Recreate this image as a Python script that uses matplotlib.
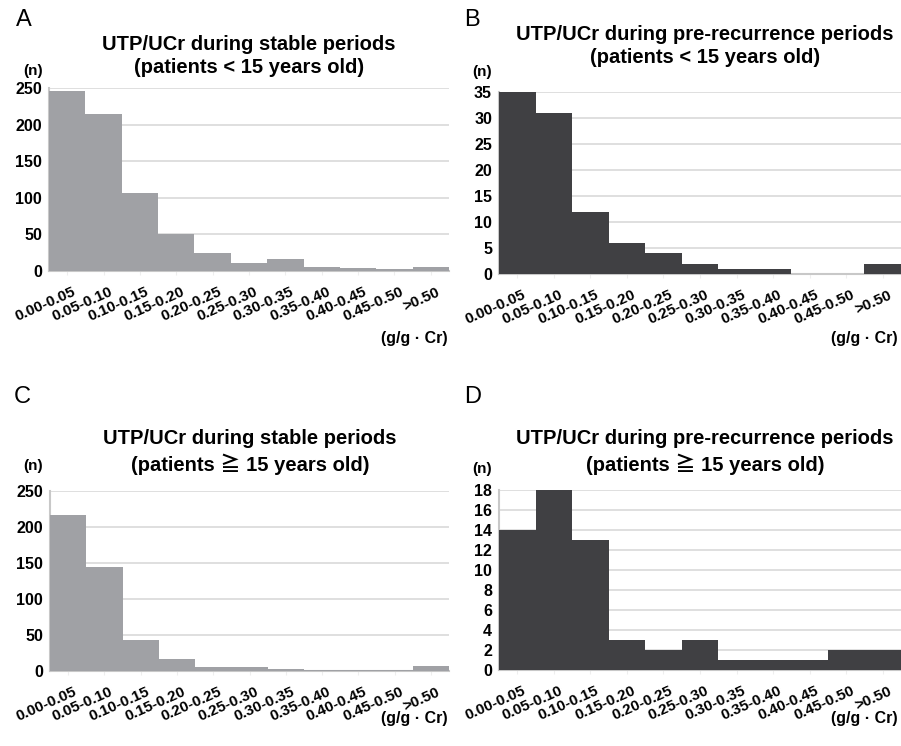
import matplotlib
matplotlib.use('agg')
import matplotlib.pyplot as plt
import matplotlib.transforms as mtransforms
import numpy as np

# bins of UTP/UCr (g/g Cr)
bins = ['0.00-0.05', '0.05-0.10', '0.10-0.15', '0.15-0.20', '0.20-0.25',
        '0.25-0.30', '0.30-0.35', '0.35-0.40', '0.40-0.45', '0.45-0.50', '>0.50']

# counts
stable_young = [246, 214, 106, 50, 25, 11, 16, 6, 4, 3, 6]
prerec_young = [35, 31, 12, 6, 4, 2, 1, 1, 0, 0, 2]
stable_old = [217, 145, 43, 16, 5, 5, 3, 2, 2, 2, 7]
prerec_old = [14, 18, 13, 3, 2, 3, 1, 1, 1, 2, 2]

W, H = 901, 746
FONT = ['Liberation Sans', 'Noto Sans CJK JP', 'DejaVu Sans']
plt.rcParams['font.family'] = FONT

fig = plt.figure(figsize=(W / 100, H / 100), dpi=100)


def px(x, y):
    return x / W, 1 - y / H


def add_panel(box, counts, color, yticks, letter, title, letter_xy, title_xy, n_xy, unit_xy):
    l, t, r, b = box
    ax = fig.add_axes([l / W, 1 - b / H, (r - l) / W, (b - t) / H])
    x = np.arange(len(counts))
    ax.bar(x, counts, width=1.0, color=color, zorder=3)
    ax.set_xlim(-0.5, len(counts) - 0.5)
    ax.set_ylim(0, yticks[-1])
    ax.set_yticks(yticks)
    ax.set_yticklabels([str(v) for v in yticks], fontsize=11.5, fontweight='bold')
    ax.yaxis.grid(True, color='#d9d9d9', lw=1.2, zorder=0)
    ax.tick_params(axis='y', length=0, pad=5)
    ax.set_xticks(x)
    ax.set_xticklabels(bins, rotation=24, ha='right', rotation_mode='anchor',
                       fontsize=11, fontweight='bold')
    ax.tick_params(axis='x', length=3, color='#eeeeee', pad=7)
    shift = mtransforms.ScaledTranslation(5 / 100, 0, fig.dpi_scale_trans)
    for lab in ax.get_xticklabels():
        lab.set_transform(lab.get_transform() + shift)
    for s in ['top', 'right']:
        ax.spines[s].set_visible(False)
    ax.spines['left'].set_color('#c8c8c8')
    ax.spines['bottom'].set_color('#c8c8c8')
    ax.spines['left'].set_linewidth(1.5)
    ax.spines['bottom'].set_linewidth(1.5)

    fig.text(*px(*letter_xy), letter, fontsize=17, ha='center', va='center')
    fig.text(*px(*title_xy), title, fontsize=14.5, fontweight='bold',
             ha='center', va='center', linespacing=1.3)
    fig.text(*px(*n_xy), '(n)', fontsize=11, fontweight='bold', ha='right', va='center')
    fig.text(*px(*unit_xy), '(g/g · Cr)', fontsize=11.5, fontweight='bold',
             ha='right', va='center')
    return ax


gray = '#a0a1a5'
dark = '#404043'

add_panel((49, 88, 449, 271), stable_young, gray, [0, 50, 100, 150, 200, 250], 'A',
          'UTP/UCr during stable periods\n(patients < 15 years old)',
          (24, 20), (249, 56), (43, 71), (448, 338))
add_panel((499, 92, 901, 274), prerec_young, dark, [0, 5, 10, 15, 20, 25, 30, 35], 'B',
          'UTP/UCr during pre-recurrence periods\n(patients < 15 years old)',
          (472, 20), (705, 46), (492, 72), (898, 338))
add_panel((50, 491, 449, 671), stable_old, gray, [0, 50, 100, 150, 200, 250], 'C',
          'UTP/UCr during stable periods\n(patients ≧ 15 years old)',
          (22, 397), (250, 452), (43, 466), (448, 718))
add_panel((499, 490, 901, 670), prerec_old, dark, [0, 2, 4, 6, 8, 10, 12, 14, 16, 18], 'D',
          'UTP/UCr during pre-recurrence periods\n(patients ≧ 15 years old)',
          (473, 397), (705, 452), (492, 469), (898, 718))

fig.savefig('out.png', dpi=100)
